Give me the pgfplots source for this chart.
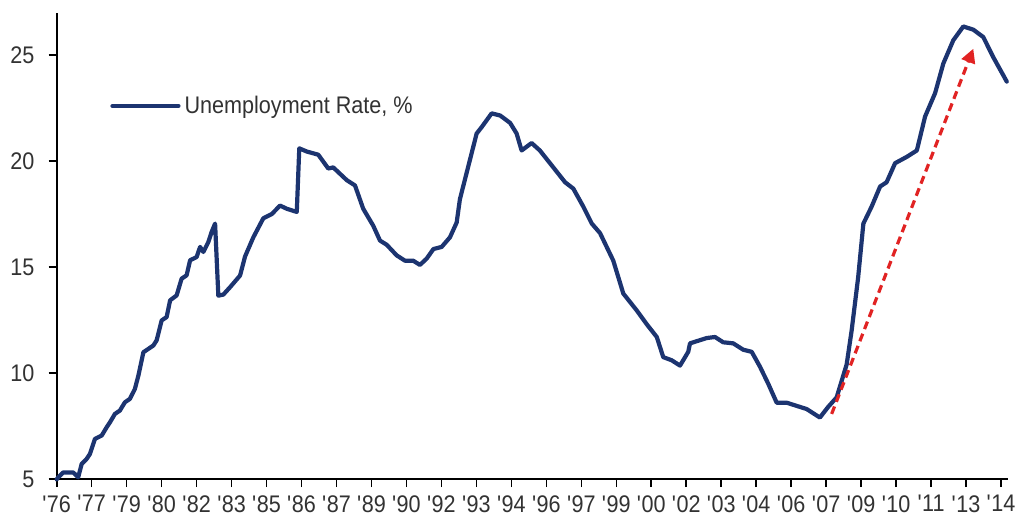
\documentclass[border=0pt]{standalone}
\usepackage{fontspec}
\setmainfont{Liberation Sans}[FakeStretch=0.9]
\usepackage{pgfplots}
\pgfplotsset{compat=1.18}
\usetikzlibrary{arrows.meta}
\definecolor{navy}{RGB}{28,52,112}
\definecolor{arrowred}{RGB}{225,35,35}
\definecolor{txt}{RGB}{50,50,50}
\begin{document}
\begin{tikzpicture}
\useasboundingbox (0,0) rectangle (510pt,262pt);
\begin{axis}[
  at={(28.35pt,22.5pt)}, anchor=south west,
  scale only axis, width=475.65pt, height=233.15pt,
  xmin=1976.5, xmax=2014.58, ymin=5, ymax=27,
  axis x line*=bottom, axis y line*=left,
  axis line style={line width=1pt, black, -},
  tick style={line width=0.8pt, black},
  tick align=outside,
  major tick length=4pt,
  ytick={5,10,15,20,25},
  xtick={1976.5,1977.9,1979.3,1980.7,1982.1,1983.5,1984.9,1986.3,1987.7,1989.1,1990.5,1991.9,1993.3,1994.7,1996.1,1997.5,1998.9,2000.3,2001.7,2003.1,2004.5,2005.9,2007.3,2008.7,2010.1,2011.5,2012.9,2014.3},
  xticklabels={\textquotesingle76,\textquotesingle77,\textquotesingle79,\textquotesingle80,\textquotesingle82,\textquotesingle83,\textquotesingle85,\textquotesingle86,\textquotesingle87,\textquotesingle89,\textquotesingle90,\textquotesingle92,\textquotesingle93,\textquotesingle94,\textquotesingle96,\textquotesingle97,\textquotesingle99,\textquotesingle00,\textquotesingle02,\textquotesingle03,\textquotesingle04,\textquotesingle06,\textquotesingle07,\textquotesingle09,\textquotesingle10,\textquotesingle11,\textquotesingle13,\textquotesingle14},
  /pgf/number format/assume math mode=true,
  tick label style={font=\fontsize{12}{14}\selectfont, text=txt},
  xticklabel style={inner sep=0pt, anchor=north, yshift=-4pt},
  yticklabel style={inner sep=0pt, anchor=east, xshift=-7pt},
  clip=false,
  legend style={draw=none, fill=none, at={(rel axis cs:0.056,0.80)}, anchor=west, inner sep=0pt,
    font=\fontsize{12}{14}\selectfont, text=txt, nodes={inner sep=2pt}},
  legend image code/.code={\draw[#1, line cap=round] (0pt,0pt) -- (33pt,0pt);},
]
\addplot[navy, line width=2.1pt, line join=round, line cap=round] coordinates {
(1976.50,4.98) (1976.56,5.08) (1976.76,5.31) (1977.16,5.31) (1977.36,5.08) (1977.50,5.71)
(1977.70,5.95) (1977.83,6.18) (1978.03,6.89) (1978.30,7.05) (1978.50,7.44) (1978.63,7.67)
(1978.83,8.07) (1979.03,8.23) (1979.23,8.62) (1979.43,8.78) (1979.63,9.25) (1979.77,9.88)
(1979.97,10.98) (1980.17,11.14) (1980.37,11.3) (1980.50,11.54) (1980.70,12.48) (1980.90,12.64)
(1981.04,13.43) (1981.30,13.66) (1981.50,14.45) (1981.70,14.61) (1981.84,15.32) (1982.10,15.47)
(1982.24,15.95) (1982.37,15.71) (1982.57,16.18) (1982.70,16.65) (1982.84,17.05) (1982.97,13.65)
(1983.17,13.7) (1983.44,14.05) (1983.84,14.6) (1984.04,15.5) (1984.37,16.4) (1984.77,17.3)
(1985.11,17.5) (1985.44,17.9) (1985.71,17.75) (1986.11,17.6) (1986.21,20.6) (1986.51,20.45)
(1986.97,20.3) (1987.37,19.65) (1987.57,19.7) (1988.11,19.1) (1988.44,18.85) (1988.77,17.75)
(1989.17,16.95) (1989.44,16.25) (1989.71,16.05) (1990.11,15.55) (1990.44,15.3) (1990.77,15.3)
(1991.04,15.1) (1991.31,15.4) (1991.58,15.85) (1991.91,15.95) (1992.24,16.4) (1992.51,17.1)
(1992.64,18.2) (1993.04,20.05) (1993.31,21.3) (1993.51,21.6) (1993.91,22.25) (1994.25,22.15)
(1994.65,21.8) (1994.91,21.3) (1995.11,20.5) (1995.51,20.85) (1995.84,20.5) (1996.38,19.7)
(1996.85,19.0) (1997.18,18.7) (1997.58,17.85) (1997.92,17.05) (1998.25,16.6) (1998.78,15.3)
(1999.18,13.75) (1999.72,12.95) (2000.12,12.3) (2000.52,11.7) (2000.78,10.75) (2001.12,10.6)
(2001.45,10.35) (2001.78,11.0) (2001.85,11.4) (2002.25,11.55) (2002.52,11.65) (2002.85,11.7)
(2003.18,11.45) (2003.58,11.4) (2003.98,11.1) (2004.32,11.0) (2004.65,10.3) (2004.98,9.5)
(2005.32,8.6) (2005.72,8.6) (2006.12,8.45) (2006.52,8.3) (2007.05,7.9) (2007.38,8.4)
(2007.72,8.85) (2008.12,10.4) (2008.32,12.0) (2008.58,14.5) (2008.79,17.05) (2009.12,17.85)
(2009.46,18.8) (2009.72,19.0) (2010.06,19.9) (2010.53,20.2) (2010.93,20.5) (2011.26,22.1)
(2011.66,23.2) (2011.99,24.6) (2012.39,25.7) (2012.79,26.35) (2013.19,26.2) (2013.59,25.85)
(2013.99,24.9) (2014.53,23.75)
};
\addlegendentry{Unemployment Rate, \%}
\addplot[arrowred, line width=1.6pt, dash pattern=on 4pt off 2.5pt, -{Triangle[length=7pt,width=7pt]}, forget plot] coordinates {(2007.52,8.07) (2013.19,25.3)};
\end{axis}
\end{tikzpicture}
\end{document}
